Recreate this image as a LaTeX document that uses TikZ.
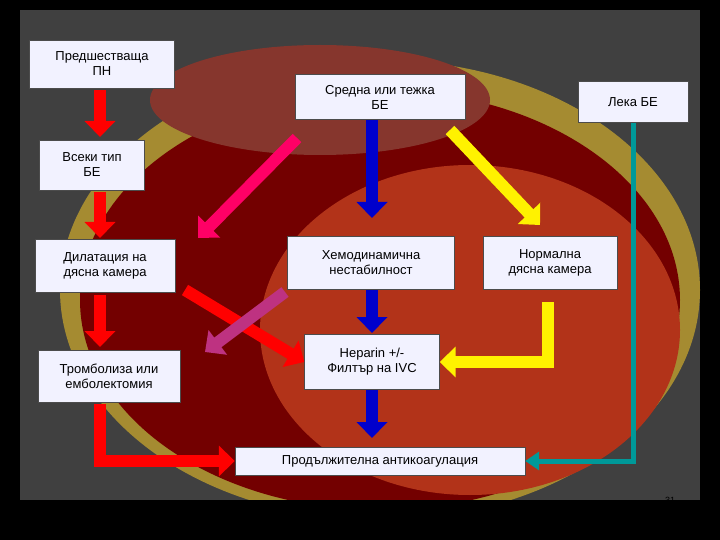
\documentclass[tikz,border=0pt]{standalone}
\usepackage{fontspec}
\setmainfont{Liberation Sans}
\usetikzlibrary{arrows.meta}
\begin{document}
\begin{tikzpicture}[x=1pt,y=-1pt,
 box/.style={draw=black!70,fill=blue!5!white,align=center,font=\fontsize{13}{15}\selectfont,inner sep=3pt},
 blk/.style={line width=12pt,-{Triangle[length=16pt,width=30pt]}},
 thin/.style={line width=5pt,-{Triangle[length=14pt,width=18pt]}}]
\useasboundingbox (0,0) rectangle (720,540);
\fill[black] (0,0) rectangle (720,540);
\fill[black!75] (20,10) rectangle (700,500);
\fill[yellow!60!orange!80!black,opacity=.7] (380,290) ellipse (320 and 230);
\fill[red!45!black] (380,300) ellipse (300 and 210);
\fill[purple!40!brown!70!black] (320,100) ellipse (170 and 55);
\fill[red!50!brown!80!black] (470,330) ellipse (210 and 165);
\fill[black] (0,500) rectangle (720,540);
\node[box,minimum width=145,minimum height=48] (a) at (102,64) {Предшестваща\\ПН};
\node[box,minimum width=170,minimum height=45] (b) at (380,97) {Средна или тежка\\БЕ};
\node[box,minimum width=110,minimum height=41] (c) at (633,102) {Лека БЕ};
\node[box,minimum width=105,minimum height=50] (d) at (92,165) {Всеки тип\\БЕ};
\node[box,minimum width=140,minimum height=53] (e) at (105,266) {Дилатация на\\дясна камера};
\node[box,minimum width=167,minimum height=53] (f) at (371,263) {Хемодинамична\\нестабилност};
\node[box,minimum width=134,minimum height=53] (g) at (550,263) {Нормална\\дясна камера};
\node[box,minimum width=142,minimum height=52] (h) at (109,376) {Тромболиза или\\емболектомия};
\node[box,minimum width=135,minimum height=55] (i) at (372,362) {Heparin +/-\\Филтър на IVC};
\node[box,minimum width=290,minimum height=28] (j) at (380,461) {Продължителна антикоагулация};
\node[font=\small,text=black] (n) at (670,500) {31};
\draw[blk,red] (100,90) -- (100,137);
\draw[blk,red] (100,192) -- (100,238);
\draw[blk,red] (100,295) -- (100,347);
\draw[blk,red] (100,404) -- (100,461) -- (j.west);
\draw[blk,red] (185,290) -- (i.west);
\draw[blk,red!60!magenta] (297,138) -- (198,238);
\draw[blk,magenta!50!violet] (285,292) -- (205,352);
\draw[blk,blue!80!black] (372,120) -- (372,218);
\draw[blk,blue!80!black] (372,290) -- (372,333);
\draw[blk,blue!80!black] (372,390) -- (372,438);
\draw[blk,yellow] (450,130) -- (540,225);
\draw[blk,yellow] (548,302) -- (548,362) -- (i.east);
\draw[thin,teal!80!cyan] (c.south) -- (c.south |- j.east) -- (j.east);
\end{tikzpicture}
\end{document}
